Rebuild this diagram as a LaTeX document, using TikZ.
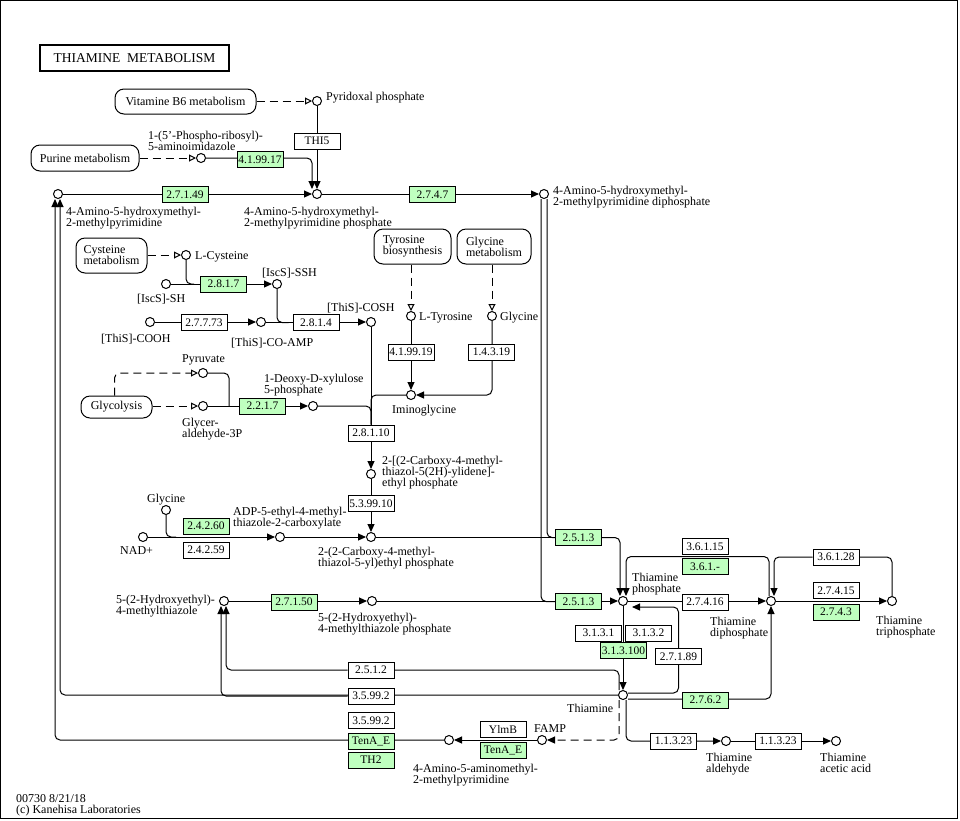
\documentclass[tikz,border=0pt]{standalone}
\usepackage{fontspec}
\setmainfont{Liberation Serif}
\usetikzlibrary{arrows.meta,calc}
\pgfdeclarelayer{bg}
\pgfsetlayers{bg,main}
\definecolor{kgreen}{RGB}{191,255,191}
\begin{document}
\begin{tikzpicture}[x=1pt,y=-1pt,
  every node/.style={font=\fontsize{12}{11}\selectfont},
  cpd/.style={circle,draw,fill=white,inner sep=0,minimum size=9pt,line width=1pt},
  enz/.style={draw,fill=white,inner sep=0,minimum width=46pt,minimum height=16pt,line width=1pt,font=\fontsize{11.5}{11}\selectfont},
  genz/.style={enz,fill=kgreen},
  mapbox/.style={draw,rounded corners=9pt,inner sep=0,line width=1pt,align=left},
  lbl/.style={inner sep=0,anchor=base west,align=left},
  conn/.style={line width=1pt,rounded corners=5pt},
  arr/.style={conn,-{Triangle[length=8pt,width=7pt]}},
  darr/.style={conn,dash pattern=on 8pt off 5pt,-{Triangle[open,length=7pt,width=7pt]}},
  darrf/.style={conn,dash pattern=on 8pt off 5pt,-{Triangle[length=8pt,width=7pt]}}]
\useasboundingbox (0,0) rectangle (960,820);
\draw[line width=1pt] (0.5,0.5) rectangle (957.5,818.5);

% title
\node[draw,line width=1.5pt,minimum width=189pt,minimum height=26pt,inner sep=0,font=\fontsize{13.5}{13}\selectfont] (title) at (134.5,58) {THIAMINE\ \ METABOLISM};

% map boxes
\node[mapbox,minimum width=141pt,minimum height=25pt] (mB6) at (185.5,101.5) {Vitamine B6 metabolism};
\node[mapbox,minimum width=108pt,minimum height=26pt] (mPur) at (85,158) {Purine metabolism};
\node[mapbox,minimum width=71pt,minimum height=35pt] (mCys) at (111.5,255.5) {Cysteine\\metabolism};
\node[mapbox,minimum width=71pt,minimum height=22pt] (mGlyco) at (116.5,407) {Glycolysis};
\node[mapbox,minimum width=77pt,minimum height=35pt] (mTyr) at (412.5,246.5) {Tyrosine\\biosynthesis};
\node[mapbox,minimum width=74pt,minimum height=35pt] (mGlym) at (494,246.5) {Glycine\\metabolism};

% compounds
\node[cpd] (pl) at (317,101) {};
\node[cpd] (air) at (201,158) {};
\node[cpd] (hmp) at (58,194) {};
\node[cpd] (hmpp) at (317,194) {};
\node[cpd] (hmppp) at (544,194) {};
\node[cpd] (cys) at (186,255) {};
\node[cpd] (iscsh) at (166,284) {};
\node[cpd] (iscssh) at (277,284) {};
\node[cpd] (thiscooh) at (150,322) {};
\node[cpd] (thisamp) at (261,322) {};
\node[cpd] (thiscosh) at (371,322) {};
\node[cpd] (tyr) at (411,316) {};
\node[cpd] (glyc) at (492,316) {};
\node[cpd] (pyr) at (203,373) {};
\node[cpd] (gap) at (203,406) {};
\node[cpd] (dxp) at (313,406) {};
\node[cpd] (imino) at (411,395) {};
\node[cpd] (cthz) at (371,474) {};
\node[cpd] (cthzp) at (371,537) {};
\node[cpd] (gly2) at (166,510) {};
\node[cpd] (nad) at (143,537) {};
\node[cpd] (adp) at (280,537) {};
\node[cpd] (het) at (224,601) {};
\node[cpd] (hetp) at (372,601) {};
\node[cpd] (tmp) at (623,601) {};
\node[cpd] (tdp) at (771,601) {};
\node[cpd] (ttp) at (892,601) {};
\node[cpd] (thi) at (623,695) {};
\node[cpd] (famp) at (542,740) {};
\node[cpd] (ampy) at (449,740) {};
\node[cpd] (tald) at (726,741) {};
\node[cpd] (tacid) at (836,741) {};

% enzymes
\node[enz] (thi5) at (317,141) {THI5};
\node[genz] (e419917) at (260,159.5) {4.1.99.17};
\node[genz] (e27149) at (185,194.5) {2.7.1.49};
\node[genz] (e2747) at (432.5,194.5) {2.7.4.7};
\node[genz] (e2817) at (223.5,284) {2.8.1.7};
\node[enz] (e27773) at (204,322.5) {2.7.7.73};
\node[enz] (e2814) at (316,322.5) {2.8.1.4};
\node[enz] (e419919) at (411,352) {4.1.99.19};
\node[enz] (e14319) at (491.5,352) {1.4.3.19};
\node[genz] (e2217) at (262.5,406) {2.2.1.7};
\node[enz] (e28110) at (371,433) {2.8.1.10};
\node[enz] (e539910) at (371,503.5) {5.3.99.10};
\node[genz] (e24260) at (206,526) {2.4.2.60};
\node[enz] (e24259) at (206,550) {2.4.2.59};
\node[genz] (e2513a) at (578.5,537.5) {2.5.1.3};
\node[genz] (e27150) at (294,602) {2.7.1.50};
\node[genz] (e2513b) at (578.5,601.5) {2.5.1.3};
\node[enz] (e36115) at (705,546.5) {3.6.1.15};
\node[genz] (e361x) at (705,566.5) {3.6.1.-};
\node[enz] (e36128) at (836,557) {3.6.1.28};
\node[enz] (e27416) at (705,602) {2.7.4.16};
\node[enz] (e27415) at (836,590.5) {2.7.4.15};
\node[genz] (e2743) at (836,612) {2.7.4.3};
\node[enz] (e3131) at (598.5,633) {3.1.3.1};
\node[enz] (e3132) at (648.5,633) {3.1.3.2};
\node[genz] (e313100) at (623.5,650.5) {3.1.3.100};
\node[enz] (e27189) at (678.5,656.5) {2.7.1.89};
\node[enz] (e2512) at (371,670) {2.5.1.2};
\node[enz] (e35992a) at (371,696) {3.5.99.2};
\node[genz] (e2762) at (705.5,700) {2.7.6.2};
\node[enz] (e35992b) at (371,720.5) {3.5.99.2};
\node[genz] (tenaa) at (371,741) {TenA\_E};
\node[genz] (th2) at (371,760) {TH2};
\node[enz] (ylmb) at (503,729.5) {YlmB};
\node[genz] (tenab) at (503,750.5) {TenA\_E};
\node[enz] (e11323a) at (673.5,741) {1.1.3.23};
\node[enz] (e11323b) at (778,741) {1.1.3.23};

% labels (base = baseline of the last line)
\node[lbl] (lpl) at (326,100) {Pyridoxal phosphate};
\node[lbl] (lair) at (148,150) {1-(5'-Phospho-ribosyl)-\\5-aminoimidazole};
\node[lbl] (lhmp) at (66,226) {4-Amino-5-hydroxymethyl-\\2-methylpyrimidine};
\node[lbl] (lhmpp) at (244,226) {4-Amino-5-hydroxymethyl-\\2-methylpyrimidine phosphate};
\node[lbl] (lhmppp) at (553,205) {4-Amino-5-hydroxymethyl-\\2-methylpyrimidine diphosphate};
\node[lbl] (lcys) at (195,259) {L-Cysteine};
\node[lbl] (liscssh) at (262,276) {[IscS]-SSH};
\node[lbl] (liscsh) at (137,302) {[IscS]-SH};
\node[lbl] (lthiscooh) at (101,342) {[ThiS]-COOH};
\node[lbl] (lthisamp) at (231,346) {[ThiS]-CO-AMP};
\node[lbl] (lthiscosh) at (327,311) {[ThiS]-COSH};
\node[lbl] (ltyr) at (419,320) {L-Tyrosine};
\node[lbl] (lglyc) at (500,320) {Glycine};
\node[lbl] (limino) at (392,413) {Iminoglycine};
\node[lbl] (lpyr) at (182,362) {Pyruvate};
\node[lbl] (ldxp) at (264,393) {1-Deoxy-D-xylulose\\5-phosphate};
\node[lbl] (lgap) at (182,437) {Glycer-\\aldehyde-3P};
\node[lbl] (lcthz) at (382,486) {2-[(2-Carboxy-4-methyl-\\thiazol-5(2H)-ylidene]-\\ethyl phosphate};
\node[lbl] (lgly2) at (147,502) {Glycine};
\node[lbl] (ladp) at (233,526) {ADP-5-ethyl-4-methyl-\\thiazole-2-carboxylate};
\node[lbl] (lnad) at (120,554) {NAD+};
\node[lbl] (lcthzp) at (318,566) {2-(2-Carboxy-4-methyl-\\thiazol-5-yl)ethyl phosphate};
\node[lbl] (lhet) at (116,614) {5-(2-Hydroxyethyl)-\\4-methylthiazole};
\node[lbl] (lhetp) at (318,632) {5-(2-Hydroxyethyl)-\\4-methylthiazole phosphate};
\node[lbl] (ltmp) at (632,592) {Thiamine\\phosphate};
\node[lbl] (ltdp) at (710,636) {Thiamine\\diphosphate};
\node[lbl] (lttp) at (876,635) {Thiamine\\triphosphate};
\node[lbl] (lthi) at (567,712) {Thiamine};
\node[lbl] (lfamp) at (534,732) {FAMP};
\node[lbl] (lampy) at (413,783) {4-Amino-5-aminomethyl-\\2-methylpyrimidine};
\node[lbl] (ltald) at (706,772) {Thiamine\\aldehyde};
\node[lbl] (ltacid) at (820,772) {Thiamine\\acetic acid};
\node[lbl] (foot) at (16,813) {00730 8/21/18\\(c) Kanehisa Laboratories};

\coordinate (k1) at (705,556.5);
\coordinate (j1) at (176,537);

\begin{pgfonlayer}{bg}
\draw[darr] (mB6.east |- pl) -- (pl);
\draw[arr] (pl) -- (hmpp);
\draw[arr] (air) -| ([xshift=-5pt]hmpp.north);
\draw[darr] (mPur.east |- air) -- (air);
\draw[arr] (hmp) -- (hmpp);
\draw[arr] (hmpp) -- (hmppp);
\draw[conn] ([xshift=3pt]hmppp.south) |- (e2513a.west);
\draw[conn] ([xshift=-3pt]hmppp.south) |- (e2513b.west);
\draw[conn] (cthzp) -- (e2513a.west |- cthzp);
\draw[arr] (e2513a.east) -| ([xshift=-3pt]tmp.north);
\draw[arr] (hetp) -- (tmp);
\draw[arr] (tmp) -- (tdp);
\draw[arr] ([xshift=-2pt]tdp.north) |- (k1) -| ([xshift=3pt]tmp.north);
\draw[arr] (ttp.north) |- (e36128) -| ([xshift=3pt]tdp.north);
\draw[arr] (tdp) -- (ttp);
\draw[arr] (tmp) -- (thi);
\draw[arr] ([yshift=2pt]thi.east) -| (e27189.center) |- ([xshift=9pt,yshift=-6pt]tmp.center);
\draw[arr] ([yshift=-4pt]thi.east) -| (tdp.south);
\draw[arr] ([xshift=-4pt]thi.north) |- (e2512) -| ([xshift=2pt]het.south);
\draw[arr] (thi.west) -| ([xshift=2pt]hmp.south);
\draw[arr] (e35992a.west) -| ([xshift=-3pt]het.south);
\draw[arr] (ampy.west) -| ([xshift=-3pt]hmp.south);
\draw[arr] (famp) -- (ampy);
\draw[darrf] ([xshift=-4pt]thi.south) |- (famp.east);
\draw[arr] ([xshift=3pt]thi.south) |- (tald.west);
\draw[arr] (tald) -- (tacid);

\draw[darr] (mCys.east |- cys) -- (cys);
\draw[arr] (iscsh) -- (iscssh);
\draw[conn] (cys.south) |- ([xshift=-6pt]e2817.west);
\draw[arr] (thiscooh) -- (thisamp);
\draw[arr] (thisamp) -- (thiscosh);
\draw[conn] (iscssh.south) |- ([xshift=-4pt]e2814.west);
\draw[arr] (thiscosh) -- (cthz);
\draw[conn] (dxp.east) -| (e28110.north);
\draw[conn] (imino.west) -| (e28110.north);
\draw[darr] (mGlyco.east |- gap) -- (gap);
\draw[darr] ([xshift=-2pt]mGlyco.north) |- (pyr.west);
\draw[conn] (pyr.east) -| ([xshift=-10pt]e2217.west);
\draw[arr] (gap) -- (dxp);
\draw[darr] (mTyr.south -| tyr) -- (tyr);
\draw[darr] (mGlym.south -| glyc) -- (glyc);
\draw[arr] (tyr) -- (imino);
\draw[arr] (glyc.south) |- (imino.east);
\draw[arr] (cthz) -- (cthzp);
\draw[arr] (nad) -- (adp);
\draw[conn] (gly2.south) |- (j1);
\draw[arr] (adp) -- (cthzp);
\draw[arr] (het) -- (hetp);
\end{pgfonlayer}
\end{tikzpicture}
\end{document}
